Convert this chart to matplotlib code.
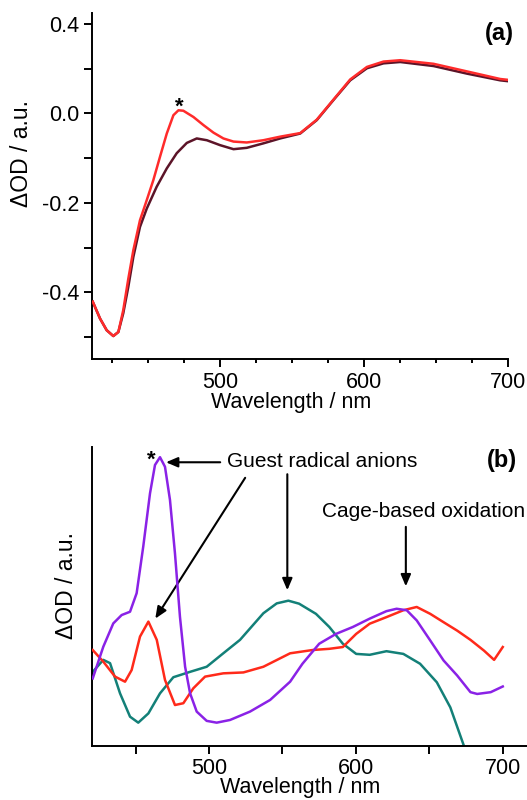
import matplotlib
matplotlib.use("Agg")
import matplotlib.pyplot as plt
from matplotlib.ticker import FixedLocator

plt.rcParams['font.family'] = ['Liberation Sans', 'DejaVu Sans']

# ---------------- Panel (a) data ----------------
wl_a_dark = [411.6, 416.7, 421.3, 425.9, 429.4, 432.8, 436.3, 439.8, 444.4, 449.1,
             456.0, 463.0, 469.9, 476.9, 483.8, 490.8, 500.0, 509.3, 518.5, 530.0,
             541.7, 555.6, 567.1, 578.7, 590.3, 601.9, 613.4, 625.0, 648.1, 671.3,
             694.4, 700.0]
od_a_dark = [-0.421, -0.459, -0.485, -0.498, -0.489, -0.447, -0.388, -0.321, -0.254, -0.213,
             -0.164, -0.123, -0.089, -0.066, -0.056, -0.060, -0.071, -0.080, -0.077, -0.067,
             -0.056, -0.045, -0.015, 0.030, 0.074, 0.101, 0.112, 0.115, 0.106, 0.089,
             0.074, 0.072]

wl_a_red = [411.6, 416.7, 421.3, 425.9, 429.4, 432.8, 436.3, 439.8, 444.4, 449.1,
            453.7, 458.3, 463.0, 467.6, 471.1, 474.5, 481.5, 488.4, 495.4, 502.3,
            509.3, 518.5, 530.0, 541.7, 555.6, 567.1, 578.7, 590.3, 601.9, 613.4,
            625.0, 648.1, 671.3, 694.4, 700.0]
od_a_red = [-0.421, -0.459, -0.485, -0.498, -0.489, -0.440, -0.370, -0.306, -0.239, -0.194,
            -0.149, -0.097, -0.045, -0.004, 0.007, 0.006, -0.008, -0.026, -0.043, -0.056,
            -0.063, -0.065, -0.060, -0.052, -0.044, -0.014, 0.031, 0.076, 0.104, 0.116,
            0.119, 0.111, 0.094, 0.077, 0.075]

yticks_a = [0.2, 0.0, -0.2, -0.4]
yticklabels_a = ["0.4", "0.0", "-0.2", "-0.4"]
xticks = [500, 600, 700]

# ---------------- Panel (b) data ----------------
wl_b_purple = [420.8, 428.0, 434.8, 440.5, 446.2, 450.7, 455.2, 459.8, 463.2, 466.6,
               470.0, 473.4, 476.8, 480.2, 483.7, 487.1, 491.6, 498.4, 505.2, 514.3,
               527.9, 541.6, 555.2, 563.6, 575.0, 586.5, 597.9, 609.4, 620.8, 627.7,
               634.6, 641.4, 650.6, 659.7, 668.9, 678.0, 682.6, 691.8, 700.0]
od_b_purple = [22.5, 33.1, 40.9, 43.7, 44.8, 51.0, 66.6, 84.4, 93.9, 96.5,
               93.3, 82.2, 64.3, 43.1, 26.4, 17.5, 11.4, 8.3, 7.7, 8.6,
               11.4, 15.3, 21.4, 27.4, 34.1, 37.4, 39.7, 42.5, 45.0, 45.8,
               45.3, 41.9, 35.2, 28.5, 23.5, 17.9, 17.3, 17.9, 19.8]

wl_b_red = [420.8, 428.0, 436.0, 442.8, 447.3, 453.0, 458.7, 464.4, 470.0, 476.8,
            482.5, 489.3, 497.3, 509.7, 523.4, 537.0, 555.2, 570.5, 581.9, 591.1,
            600.2, 609.4, 620.8, 632.3, 641.4, 650.6, 659.7, 668.9, 678.0, 687.2,
            694.1, 700.0]
od_b_red = [32.0, 28.1, 23.1, 21.4, 25.3, 36.5, 41.5, 35.4, 22.0, 13.6,
            14.2, 19.2, 23.1, 24.2, 24.5, 26.4, 30.9, 32.0, 32.4, 33.0,
            37.4, 40.8, 43.0, 45.3, 46.4, 44.1, 41.3, 38.5, 35.4, 31.8,
            28.7, 33.0]

wl_b_teal = [420.8, 428.0, 432.6, 439.4, 446.2, 451.8, 458.7, 466.6, 475.7, 487.1,
             498.4, 509.7, 521.1, 537.0, 546.1, 554.0, 561.3, 572.8, 581.9, 591.1,
             600.2, 609.4, 620.8, 632.3, 643.7, 655.1, 664.3, 673.5, 678.0]
od_b_teal = [24.7, 28.7, 27.6, 17.5, 9.7, 7.7, 10.8, 17.5, 22.9, 24.7,
             26.4, 30.9, 35.4, 44.3, 47.6, 48.5, 47.5, 44.1, 39.7, 34.1,
             30.7, 30.4, 31.6, 30.7, 27.4, 21.2, 12.8, 0.0, -7.3]

xticks_b_minor = [450, 550, 650]

# ---------------- Figure ----------------
fig = plt.figure(figsize=(5.27, 8.0), dpi=100)
ax_a = fig.add_axes([0.174, 0.5509, 0.9645 - 0.174, 0.9834 - 0.5509])
ax_b = fig.add_axes([0.174, 0.0679, 1.0 - 0.174, 0.4416 - 0.0679])

FS = 15.5
lw_axis = 1.4

for ax in (ax_a, ax_b):
    ax.spines['top'].set_visible(False)
    ax.spines['right'].set_visible(False)
    for s in ('left', 'bottom'):
        ax.spines[s].set_linewidth(lw_axis)
    ax.set_facecolor('none')

# Panel (a)
ax_a.plot(wl_a_dark, od_a_dark, color='#5c1428', lw=1.8, zorder=2)
ax_a.plot(wl_a_red, od_a_red, color='#ff2b2b', lw=1.8, zorder=3)
ax_a.set_xlim(410.9, 700)
ax_a.set_ylim(-0.550, 0.224)
ax_a.set_yticks(yticks_a)
ax_a.set_yticklabels(yticklabels_a)
ax_a.yaxis.set_minor_locator(FixedLocator([0.1, -0.1, -0.3, -0.5]))
ax_a.set_xticks(xticks)
ax_a.xaxis.set_minor_locator(FixedLocator([425, 450, 475, 525, 550, 575, 625, 650, 675]))
ax_a.tick_params(axis='y', which='both', direction='out', length=6, width=lw_axis,
                 labelsize=FS, pad=3)
ax_a.tick_params(axis='x', which='major', direction='out', length=6, width=lw_axis,
                 labelsize=FS, pad=3)
ax_a.tick_params(axis='x', which='minor', direction='out', length=3, width=lw_axis)
ax_a.set_xlabel("Wavelength / nm", fontsize=FS)
ax_a.set_ylabel("ΔOD / a.u.", fontsize=16.5)
ax_a.xaxis.set_label_coords(0.478, -0.095)
ax_a.yaxis.set_label_coords(-0.140, 0.596)
ax_a.text(471.5, 0.014, "*", fontsize=16, fontweight='bold', ha='center', va='center')
ax_a.text(693.8, 0.178, "(a)", fontsize=17, fontweight='bold', ha='center', va='center')

# Panel (b)
ax_b.plot(wl_b_teal, od_b_teal, color='#138078', lw=1.8, zorder=2)
ax_b.plot(wl_b_red, od_b_red, color='#ff2a1a', lw=1.8, zorder=3)
ax_b.plot(wl_b_purple, od_b_purple, color='#8a22e6', lw=1.8, zorder=4)
ax_b.set_xlim(420.1, 716.5)
ax_b.set_ylim(0, 100)
ax_b.set_yticks([])
ax_b.set_xticks(xticks)
ax_b.xaxis.set_minor_locator(FixedLocator(xticks_b_minor))
ax_b.tick_params(axis='x', which='both', direction='out', length=6, width=lw_axis,
                 labelsize=FS, pad=3)
ax_b.set_xlabel("Wavelength / nm", fontsize=FS)
ax_b.set_ylabel("ΔOD / a.u.", fontsize=16.5)
ax_b.xaxis.set_label_coords(0.478, -0.106)
ax_b.yaxis.set_label_coords(-0.032, 0.536)

arrow_kw = dict(arrowstyle='-|>,head_length=0.7,head_width=0.3', color='black', lw=1.5,
                shrinkA=0, shrinkB=0)
ax_b.text(460.5, 95.5, "*", fontsize=16, fontweight='bold', ha='center', va='center')
ax_b.annotate("", xy=(470.7, 94.8), xytext=(507.6, 94.8), arrowprops=arrow_kw)
ax_b.text(512.5, 94.9, "Guest radical anions", fontsize=15, ha='left', va='center')
ax_b.annotate("", xy=(463.4, 42.5), xytext=(524.6, 89.6), arrowprops=arrow_kw)
ax_b.annotate("", xy=(553.3, 52.0), xytext=(553.3, 90.8), arrowprops=arrow_kw)
ax_b.text(576.6, 78.3, "Cage-based oxidation", fontsize=15, ha='left', va='center')
ax_b.annotate("", xy=(634.0, 53.3), xytext=(634.0, 73.2), arrowprops=arrow_kw)
ax_b.text(699.4, 95.5, "(b)", fontsize=17, fontweight='bold', ha='center', va='center')

fig.savefig("out.png", dpi=100)
